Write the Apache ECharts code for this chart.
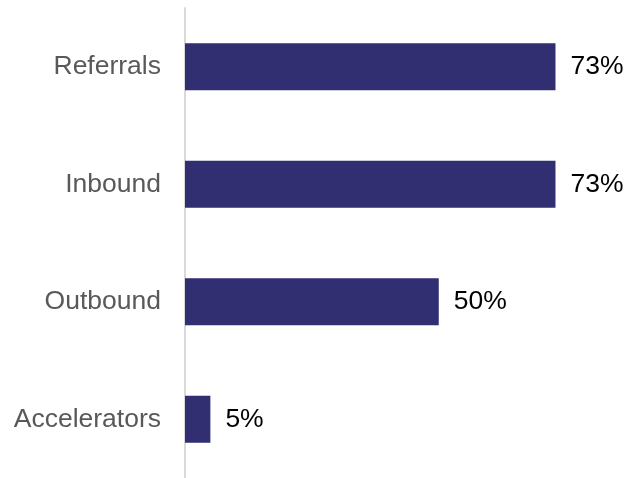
<!DOCTYPE html>
<html>
<head>
<meta charset="utf-8">
<script src="https://cdn.jsdelivr.net/npm/echarts@6/dist/echarts.min.js"></script>
<style>
html,body{margin:0;padding:0;background:#fff;}
#chart{width:628px;height:478px;}
</style>
</head>
<body>
<div id="chart"></div>
<script>
// Share of sources, top to bottom
const categories = ['Referrals', 'Inbound', 'Outbound', 'Accelerators'];
const values = [73, 73, 50, 5];

const chart = echarts.init(document.getElementById('chart'), null, {renderer: 'canvas'});
chart.setOption({
  animation: false,
  grid: {left: 185, right: 37, top: 8, bottom: 0, containLabel: false},
  xAxis: {
    type: 'value', min: 0, max: 80, show: false
  },
  yAxis: {
    type: 'category',
    data: categories,
    inverse: true,
    axisLine: {show: true, lineStyle: {color: '#d9d9d9', width: 2}},
    axisTick: {show: false},
    axisLabel: {
      color: '#595959', fontSize: 26.5, fontFamily: 'Liberation Sans, Arial, sans-serif',
      margin: 24
    },
    splitLine: {show: false}
  },
  series: [{
    type: 'bar',
    data: values,
    barWidth: 47,
    itemStyle: {color: '#312e72'},
    label: {
      show: true, position: 'right', distance: 15,
      formatter: p => p.value + '%',
      color: '#000', fontSize: 26.5, fontFamily: 'Liberation Sans, Arial, sans-serif'
    }
  }]
});
</script>
</body>
</html>
